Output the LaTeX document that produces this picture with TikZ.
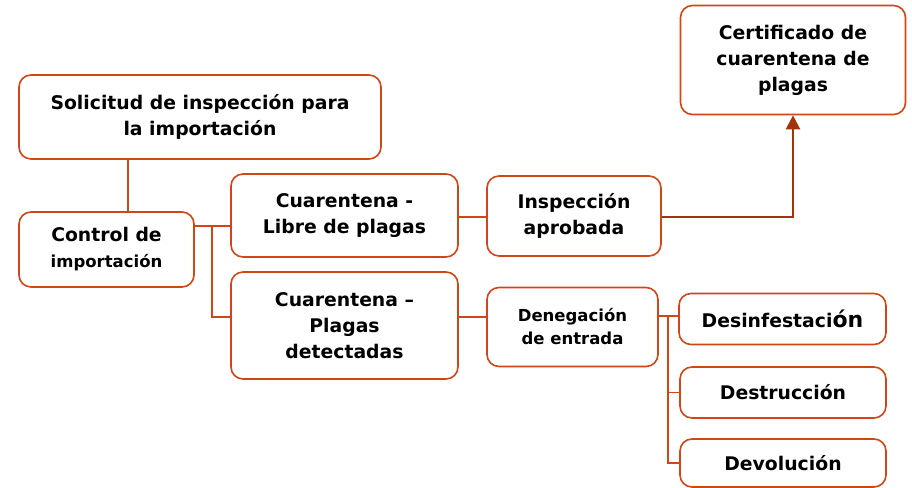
\documentclass[tikz,border=0pt]{standalone}
\usepackage{fontspec}
\setmainfont{DejaVu Sans}
\usepackage{tikz}
\usetikzlibrary{calc,arrows.meta}
\definecolor{boxline}{RGB}{208,70,22}
\definecolor{arrowline}{RGB}{162,52,12}
\tikzset{
  caja/.style={draw=boxline, line width=1.6pt, rounded corners=12pt, fill=white,
    align=center, inner sep=0pt, font=\bfseries\fontsize{18.8}{26}\selectfont},
  enlace/.style={draw=boxline, line width=1.6pt},
  flecha/.style={draw=arrowline, line width=2.2pt, -{Triangle[width=14pt,length=14pt]}}
}
\def\chico{\fontsize{16.5}{23}\selectfont}

\begin{document}
\begin{tikzpicture}[x=1pt,y=-1pt]
			%%%%% START %%%%%
			
			\path[use as bounding box] (0,0) rectangle (912,487);
			
			\node[caja, minimum width=362pt, minimum height=84pt] (sol) at (200,117) {Solicitud de inspección para\\la importación};
			\node[caja, minimum width=175pt, minimum height=75pt] (ctrl) at (106.5,249.5) {Control de\\{\chico importación}};
			
			\node[caja, minimum width=227pt, minimum height=83pt] (libre) at (344.5,215.5) {Cuarentena -\\Libre de plagas};
			\node[caja, minimum width=227pt, minimum height=107pt] (plagas) at (344.5,325.5) {Cuarentena –\\Plagas\\detectadas};
			
			\node[caja, minimum width=174pt, minimum height=80pt] (insp) at (574,216) {Inspección\\aprobada};
			\node[caja, minimum width=171pt, minimum height=79pt, font=\bfseries\chico] (deneg) at (572.5,327) {Denegación\\de entrada};
			
			\node[caja, minimum width=225pt, minimum height=109pt] (cert) at (793,60) {Certificado de\\cuarentena de\\plagas};
			
			\node[caja, minimum width=207pt, minimum height=51pt] (desinf) at (782.5,319) {Desinfestaci{\fontsize{22}{26}\selectfont ón}};
			\node[caja, minimum width=206pt, minimum height=51pt] (destr) at (783,392.5) {Destrucción};
			\node[caja, minimum width=206pt, minimum height=48pt] (devol) at (783,463) {Devolución};
			
			% puntos de las lineas
			\coordinate (jA) at (128,0);
			\coordinate (busA) at (212,226);
			\coordinate (busB) at (212,317);
			\coordinate (busC) at (668,316);
			\coordinate (busD) at (0,217);
			
			\draw[enlace] (sol.south -| jA) -- (ctrl.north -| jA);
			\draw[enlace] (ctrl.east |- busA) -- (libre.west |- busA);
			\draw[enlace] (busA) -- (busB) -- (plagas.west |- busB);
			\draw[enlace] (libre.east |- busD) -- (insp.west |- busD);
			\draw[enlace] (plagas.east |- busB) -- (deneg.west |- busB);
			
			\draw[enlace] (deneg.east |- busC) -- (desinf.west |- busC);
			\draw[enlace] (busC) -- (busC |- devol.west) -- (devol.west);
			\draw[enlace] (busC |- destr.west) -- (destr.west);
			
			\draw[flecha] (insp.east |- busD) -| (cert.south);
			
			%%%%% END %%%%%
\end{tikzpicture}
\end{document}
